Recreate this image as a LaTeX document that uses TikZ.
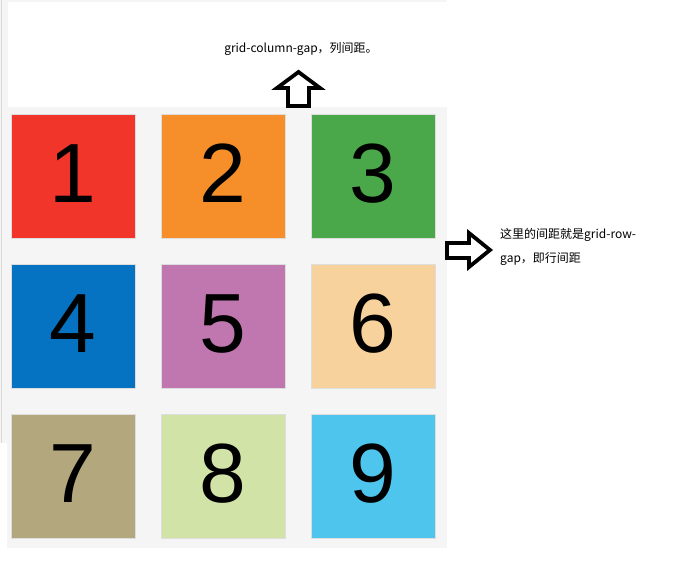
\documentclass[tikz,border=0pt]{standalone}
\usepackage{fontspec}
\setmainfont{Liberation Sans}
\newfontfamily\cjk{Noto Sans CJK SC}
\definecolor{bggray}{HTML}{F5F5F5}
\definecolor{edgegray}{HTML}{D9D9D9}
\definecolor{cellline}{HTML}{DDDDDD}
\definecolor{cA}{HTML}{F1352B}
\definecolor{cB}{HTML}{F68F2A}
\definecolor{cC}{HTML}{4AA84A}
\definecolor{cD}{HTML}{0573C1}
\definecolor{cE}{HTML}{C077AF}
\definecolor{cF}{HTML}{F7D29C}
\definecolor{cG}{HTML}{B3A77D}
\definecolor{cH}{HTML}{D2E3A8}
\definecolor{cI}{HTML}{4EC5EC}
\tikzset{
  cell/.style={draw=cellline, line width=0.8pt, minimum width=124pt, minimum height=124pt, inner sep=0pt, font=\fontsize{84}{84}\selectfont, text=black},
  blockarrow/.style={draw=black, line width=3.8pt, fill=white, miter limit=10},
  note/.style={font=\cjk\fontsize{12}{14}\selectfont, inner sep=0pt, text=black}
}
\begin{document}
\begin{tikzpicture}[x=1pt, y=-1pt]
\useasboundingbox (0,0) rectangle (694,577);
\fill[white] (0,0) rectangle (694,577);
% left strip and top band
\fill[bggray] (0,0) rectangle (8,443);
\draw[edgegray, line width=1pt] (1.8,0) -- (1.8,443);
\fill[bggray] (7,0) rectangle (447,2);
% grid container
\fill[bggray] (7,107) rectangle (447,548);
% cells
\node[cell, fill=cA] (n1) at (73,176) {\raisebox{5.5pt}{1}};
\node[cell, fill=cB] (n2) at (223,176) {\raisebox{5.5pt}{2}};
\node[cell, fill=cC] (n3) at (373,176) {\raisebox{5.5pt}{3}};
\node[cell, fill=cD] (n4) at (73,326) {\raisebox{5.5pt}{4}};
\node[cell, fill=cE] (n5) at (223,326) {\raisebox{5.5pt}{5}};
\node[cell, fill=cF] (n6) at (373,326) {\raisebox{5.5pt}{6}};
\node[cell, fill=cG] (n7) at (73,476) {\raisebox{5.5pt}{7}};
\node[cell, fill=cH] (n8) at (223,476) {\raisebox{5.5pt}{8}};
\node[cell, fill=cI] (n9) at (373,476) {\raisebox{5.5pt}{9}};
% up arrow
\draw[blockarrow] (298.5,72) -- (320,88) -- (309,88) -- (309,106) -- (288,106) -- (288,88) -- (277,88) -- cycle;
% right arrow
\draw[blockarrow] (447,243) -- (469,243) -- (469,233) -- (490,250) -- (469,267) -- (469,258) -- (447,258) -- cycle;
% texts
\node[note] (colgap) at (301,49) {grid-column-gap，列间距。};
\node[note, anchor=west] (rowgap1) at (500,235) {这里的间距就是grid-row-};
\node[note, anchor=west] (rowgap2) at (500,259) {gap，即行间距};
\end{tikzpicture}
\end{document}
